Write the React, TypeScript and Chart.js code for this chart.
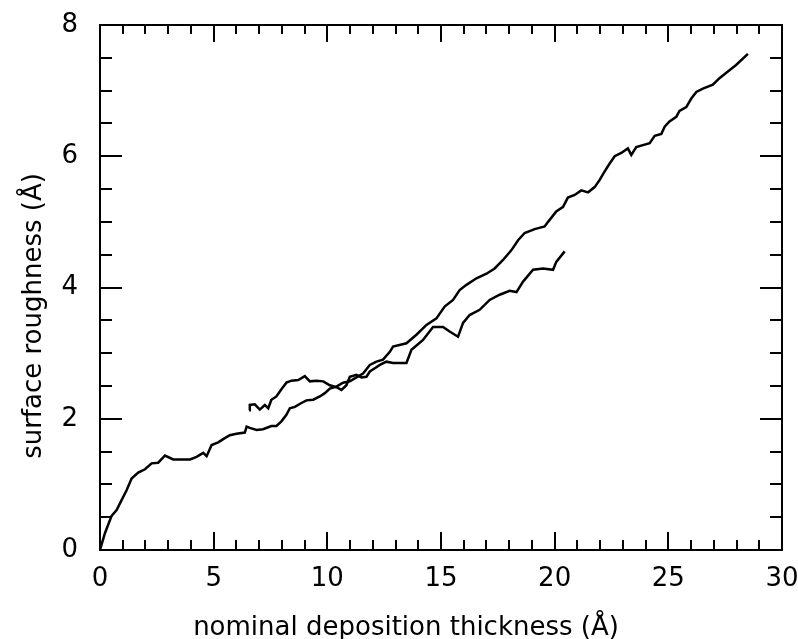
import React, { useEffect, useRef } from "react";
import { Chart, registerables } from "chart.js";

Chart.register(...registerables);

const seriesAX = [0, 0.22, 0.51, 0.73, 0.95, 1.17, 1.39, 1.68, 1.98, 2.27, 2.56, 2.86, 3.22, 3.59, 3.96, 4.25, 4.54, 4.69, 4.91, 5.2, 5.42, 5.71, 6.0, 6.37, 6.45, 6.59, 6.89, 7.17, 7.54, 7.76, 7.98, 8.2, 8.35, 8.57, 8.86, 9.08, 9.38, 9.67, 9.89, 10.11, 10.4, 10.69, 10.99, 11.28, 11.57, 11.87, 12.16, 12.45, 12.75, 12.89, 13.48, 13.92, 14.36, 14.8, 15.16, 15.53, 15.82, 16.12, 16.56, 17.0, 17.36, 17.73, 18.1, 18.39, 18.68, 19.12, 19.56, 19.71, 20.07, 20.37, 20.58, 20.88, 21.17, 21.47, 21.76, 21.98, 22.2, 22.42, 22.64, 22.93, 23.22, 23.37, 23.59, 23.88, 24.18, 24.4, 24.69, 24.84, 25.05, 25.35, 25.49, 25.79, 26.01, 26.23, 26.52, 26.96, 27.25, 27.62, 27.98, 28.5];
const seriesAY = [0, 0.26, 0.52, 0.61, 0.76, 0.91, 1.09, 1.18, 1.23, 1.32, 1.33, 1.44, 1.38, 1.38, 1.38, 1.42, 1.48, 1.43, 1.6, 1.64, 1.69, 1.75, 1.77, 1.79, 1.88, 1.86, 1.83, 1.84, 1.89, 1.89, 1.96, 2.06, 2.16, 2.18, 2.24, 2.28, 2.29, 2.34, 2.39, 2.46, 2.49, 2.55, 2.57, 2.63, 2.69, 2.82, 2.87, 2.9, 3.02, 3.1, 3.15, 3.28, 3.43, 3.53, 3.71, 3.81, 3.96, 4.04, 4.14, 4.21, 4.29, 4.42, 4.57, 4.72, 4.83, 4.89, 4.93, 5.0, 5.16, 5.23, 5.37, 5.41, 5.48, 5.45, 5.53, 5.64, 5.77, 5.89, 6.0, 6.05, 6.12, 6.02, 6.14, 6.17, 6.2, 6.31, 6.34, 6.45, 6.53, 6.6, 6.69, 6.75, 6.88, 6.98, 7.03, 7.09, 7.19, 7.29, 7.39, 7.56];

const seriesBX = [6.56, 6.59, 6.81, 7.03, 7.25, 7.4, 7.54, 7.76, 7.98, 8.2, 8.42, 8.72, 9.01, 9.23, 9.52, 9.82, 10.11, 10.4, 10.62, 10.84, 10.99, 11.28, 11.5, 11.72, 11.87, 12.09, 12.31, 12.6, 12.89, 13.48, 13.7, 14.21, 14.65, 15.09, 15.38, 15.75, 15.97, 16.26, 16.7, 17.14, 17.58, 18.02, 18.32, 18.61, 19.05, 19.49, 19.93, 20.07, 20.44];
const seriesBY = [2.13, 2.21, 2.22, 2.14, 2.21, 2.16, 2.29, 2.34, 2.45, 2.55, 2.58, 2.59, 2.65, 2.57, 2.58, 2.57, 2.51, 2.48, 2.44, 2.51, 2.64, 2.67, 2.63, 2.64, 2.72, 2.77, 2.82, 2.87, 2.85, 2.85, 3.05, 3.2, 3.4, 3.4, 3.33, 3.25, 3.46, 3.58, 3.66, 3.81, 3.89, 3.95, 3.93, 4.09, 4.27, 4.29, 4.27, 4.39, 4.55];

const xMin = 0;
const xMax = 30;
const xMajorStep = 5;
const xMinorStep = 1;
const yMin = 0;
const yMax = 8;
const yMajorStep = 2;
const yMinorStep = 0.5;

const xTitle = "nominal deposition thickness (Å)";
const yTitle = "surface roughness (Å)";

const FONT_FAMILY = "'DejaVu Sans', sans-serif";

const framePlugin = {
  id: "framePlugin",
  afterDraw(chart: any) {
    const { ctx, chartArea, scales } = chart;
    const xs = scales.x;
    const ys = scales.y;
    const { left, right, top, bottom } = chartArea;
    ctx.save();
    ctx.strokeStyle = "#000";
    ctx.lineWidth = 2;
    ctx.lineCap = "butt";
    ctx.strokeRect(left, top, right - left, bottom - top);
    ctx.beginPath();
    for (let v = xMin + xMinorStep; v < xMax - 1e-9; v += xMinorStep) {
      const major = Math.abs(v / xMajorStep - Math.round(v / xMajorStep)) < 1e-6;
      const px = Math.round(xs.getPixelForValue(v));
      const lb = major ? 18 : 10;
      const lt = major ? 17 : 9;
      ctx.moveTo(px, bottom);
      ctx.lineTo(px, bottom - lb);
      ctx.moveTo(px, top);
      ctx.lineTo(px, top + lt);
    }
    for (let v = yMin + yMinorStep; v < yMax - 1e-9; v += yMinorStep) {
      const major = Math.abs(v / yMajorStep - Math.round(v / yMajorStep)) < 1e-6;
      const py = Math.round(ys.getPixelForValue(v));
      const l = major ? 22 : 12;
      ctx.moveTo(left, py);
      ctx.lineTo(left + l, py);
      ctx.moveTo(right, py);
      ctx.lineTo(right - l, py);
    }
    ctx.stroke();

    ctx.fillStyle = "#000";
    ctx.font = `normal 26px ${FONT_FAMILY}`;
    ctx.textAlign = "center";
    ctx.textBaseline = "alphabetic";
    ctx.fillText(xTitle, 406, 635);
    ctx.translate(41, 316);
    ctx.rotate(-Math.PI / 2);
    ctx.fillText(yTitle, 0, 0);
    ctx.restore();
  },
};

const zeroPad = (s: any) => {
  s.paddingLeft = 0;
  s.paddingRight = 0;
  s.paddingTop = 0;
  s.paddingBottom = 0;
};

export default function App() {
  const ref = useRef<HTMLCanvasElement | null>(null);
  useEffect(() => {
    if (!ref.current) return;
    const chart = new Chart(ref.current, {
      type: "scatter",
      data: {
        datasets: [
          {
            label: "A",
            data: seriesAX.map((x, i) => ({ x, y: seriesAY[i] })),
            showLine: true,
            borderColor: "#000",
            borderWidth: 2.5,
            pointRadius: 0,
            tension: 0,
          },
          {
            label: "B",
            data: seriesBX.map((x, i) => ({ x, y: seriesBY[i] })),
            showLine: true,
            borderColor: "#000",
            borderWidth: 2.5,
            pointRadius: 0,
            tension: 0,
          },
        ],
      },
      options: {
        responsive: false,
        animation: false,
        devicePixelRatio: 1,
        layout: { padding: { top: 25, right: 16, left: 0, bottom: 0 } },
        plugins: { legend: { display: false }, tooltip: { enabled: false } },
        scales: {
          x: {
            type: "linear",
            min: xMin,
            max: xMax,
            grid: { display: false },
            border: { display: false },
            ticks: {
              stepSize: xMajorStep,
              color: "#000",
              padding: 6,
              font: { family: FONT_FAMILY, size: 26 },
              maxRotation: 0,
            },
            afterFit: (s: any) => {
              s.height = 89;
              zeroPad(s);
            },
          },
          y: {
            type: "linear",
            min: yMin,
            max: yMax,
            grid: { display: false },
            border: { display: false },
            ticks: {
              stepSize: yMajorStep,
              color: "#000",
              padding: 14,
              font: { family: FONT_FAMILY, size: 26 },
            },
            afterFit: (s: any) => {
              s.width = 100;
              zeroPad(s);
            },
          },
        },
      },
      plugins: [framePlugin],
    });
    return () => chart.destroy();
  }, []);
  return (
    <div style={{ position: "fixed", left: 0, top: 0, width: 798, height: 639, background: "#fff" }}>
      <canvas ref={ref} width={798} height={639} style={{ width: 798, height: 639 }} />
    </div>
  );
}
